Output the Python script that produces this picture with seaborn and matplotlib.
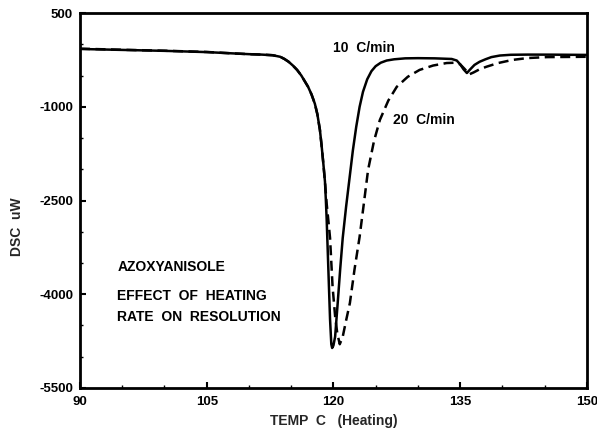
import numpy as np
import pandas as pd
import matplotlib
matplotlib.use("Agg")
import matplotlib.pyplot as plt
import seaborn as sns
from matplotlib.ticker import MultipleLocator

# ---- data ----
temp_10 = [90, 95, 100, 105, 108, 110, 111.5, 112.8, 113.7, 114.2, 114.7, 115.2, 115.7,
           116.2, 116.6, 117.0, 117.4, 117.8, 118.1, 118.4, 118.6, 118.8, 119.0, 119.1,
           119.2, 119.4, 119.6, 119.75, 119.85, 120.0, 120.2, 120.5, 120.8, 121.1,
           121.5, 121.9, 122.3, 122.7, 123.1, 123.5, 124.0, 124.5, 125.0, 125.6, 126.3,
           127.2, 128.5, 130.0, 132.0, 134.0, 134.6, 135.0, 135.4, 135.8, 136.2, 136.7,
           137.3, 138.0, 138.7, 139.7, 141.0, 143.0, 146.0, 150.0]
dsc_10 = [-75, -90, -105, -125, -145, -158, -165, -175, -200, -235, -280, -340, -410,
          -500, -590, -680, -800, -950, -1120, -1370, -1620, -1900, -2200, -2480,
          -2800, -3600, -4400, -4800, -4860, -4820, -4680, -4150, -3600, -3100,
          -2600, -2150, -1700, -1320, -1000, -760, -560, -430, -350, -295, -260,
          -240, -225, -222, -225, -235, -260, -320, -400, -460, -400, -330,
          -280, -240, -205, -180, -168, -165, -166, -170]

temp_20 = [90, 95, 100, 105, 108, 110, 111.5, 112.8, 113.7, 114.2, 114.7, 115.2, 115.7,
           116.2, 116.6, 117.0, 117.4, 117.8, 118.1, 118.4, 118.6, 118.8, 119.0, 119.2,
           119.4, 119.6, 119.9, 120.2, 120.45, 120.75, 121.1, 121.5, 121.95, 122.5,
           123.1, 123.6, 124.1, 124.8, 125.5, 126.5, 127.5, 128.8, 130.2, 131.8,
           133.4, 134.4, 135.0, 135.5, 136.1, 136.6, 137.3, 138.1, 139.5, 141.2,
           143.0, 145.3, 150.0]
dsc_20 = [-70, -88, -103, -123, -145, -158, -165, -175, -200, -235, -280, -340, -410,
          -500, -590, -680, -800, -950, -1120, -1370, -1620, -1900, -2200, -2550,
          -2820, -3100, -3880, -4350, -4620, -4800, -4680, -4420, -4140, -3600,
          -3080, -2550, -2012, -1550, -1210, -900, -680, -520, -410, -340,
          -300, -295, -320, -390, -480, -450, -400, -360, -300, -250,
          -220, -205, -200]

x_ticks = [90, 105, 120, 135, 150]
y_ticks = [500, -1000, -2500, -4000, -5500]

sns.set_theme(style="white")
plt.rcParams['font.family'] = ['Liberation Sans', 'DejaVu Sans']

fig = plt.figure(figsize=(5.97, 4.29), dpi=100)
ax = fig.add_axes([0.134, 0.0956, 0.849, 0.874])

df10 = pd.DataFrame({"temp": temp_10, "dsc": dsc_10})
df20 = pd.DataFrame({"temp": temp_20, "dsc": dsc_20})

sns.lineplot(data=df10, x="temp", y="dsc", ax=ax, color="black", lw=1.8,
             sort=False, estimator=None)
sns.lineplot(data=df20, x="temp", y="dsc", ax=ax, color="black", lw=1.8,
             sort=False, estimator=None, linestyle=(0, (4, 2.2)))

ax.set_xlim(90, 150)
ax.set_ylim(-5500, 500)
ax.set_xticks(x_ticks)
ax.set_yticks(y_ticks)
ax.set_xticklabels([str(t) for t in x_ticks], fontsize=9.5, fontweight="bold")
ax.set_yticklabels([str(t) for t in y_ticks], fontsize=9.5, fontweight="bold")
ax.xaxis.set_minor_locator(MultipleLocator(5))
ax.yaxis.set_minor_locator(MultipleLocator(500))
ax.tick_params(which="major", direction="in", length=4, width=1.5, colors="black")
ax.tick_params(axis="x", which="major", pad=6)
ax.tick_params(axis="y", which="major", pad=5)
ax.tick_params(which="minor", direction="in", length=2, width=1, colors="black")
ax.tick_params(axis="both", which="both", bottom=True, left=True, top=False, right=False)
for s in ax.spines.values():
    s.set_color("black")
    s.set_linewidth(2)

ax.set_xlabel("TEMP  C   (Heating)", fontsize=10, fontweight="bold", labelpad=4)
ax.set_ylabel("DSC  uW", fontsize=10, fontweight="bold")
ax.yaxis.set_label_coords(-0.11, 0.43)

tk = dict(fontsize=10, fontweight="bold", color="black")
ax.text(119.9, -60, "10  C/min", va="center", ha="left", **tk)
ax.text(127.0, -1212, "20  C/min", va="center", ha="left", **tk)
ax.text(94.4, -3564, "AZOXYANISOLE", va="center", ha="left", **tk)
ax.text(94.4, -4028, "EFFECT  OF  HEATING", va="center", ha="left", **tk)
ax.text(94.4, -4364, "RATE  ON  RESOLUTION", va="center", ha="left", **tk)

fig.savefig("out.png", dpi=100)
